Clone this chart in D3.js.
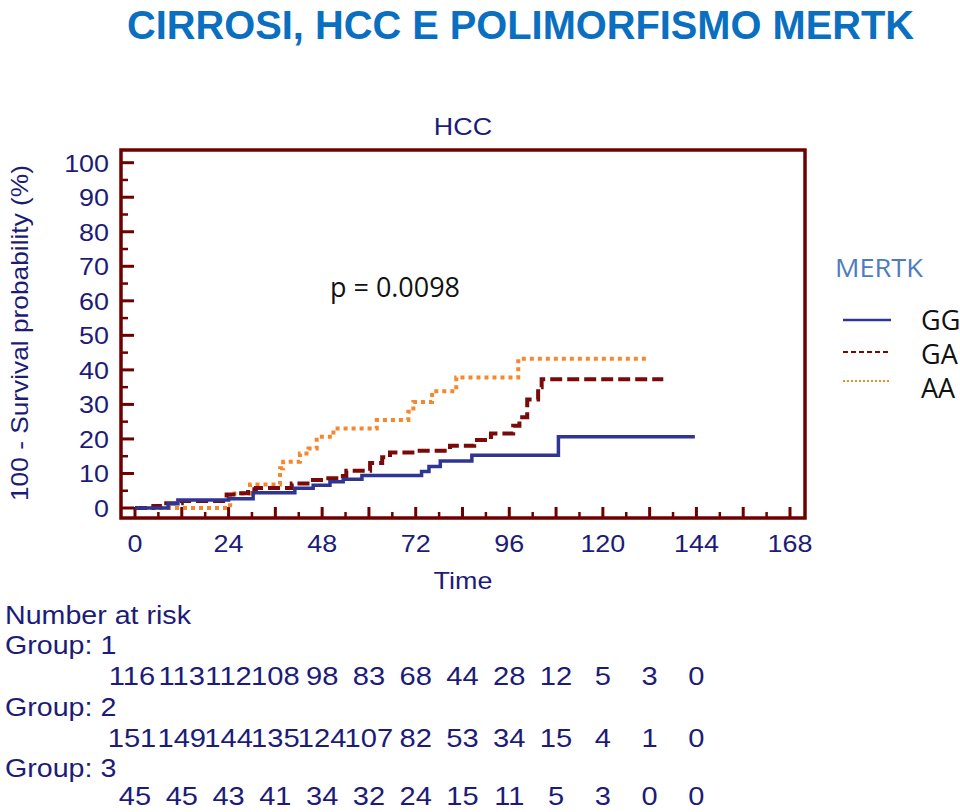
<!DOCTYPE html>
<html>
<head>
<meta charset="utf-8">
<script src="https://cdn.jsdelivr.net/npm/d3@7"></script>
<style>
  html, body { margin: 0; padding: 0; background: #fff; }
  svg { display: block; }
  text { font-family: "Liberation Sans", Arial, sans-serif; }
</style>
</head>
<body>
<svg id="chart" width="960" height="812"></svg>
<script>
// ---------- DATA ----------
const titleText = "CIRROSI, HCC E POLIMORFISMO MERTK";
const plotTitle = "HCC";
const xLabel = "Time";
const yLabel = "100 - Survival probability (%)";
const pValue = "p = 0.0098";
const legendTitle = "MERTK";
const groups = ["GG", "GA", "AA"];

const xTicks = [0, 24, 48, 72, 96, 120, 144, 168];
const yTicks = [0, 10, 20, 30, 40, 50, 60, 70, 80, 90, 100];

// step curves: [time, 100 - survival %]
const ggSteps = [[0,0],[8.5,1.2],[11,2.3],[24,2.7],[30.3,4.4],[41,5.7],[45.7,6.6],[50,7.6],[53.4,8.3],[58.2,9.4],[73.5,10.6],[75.4,12],[78.3,13.6],[86.4,15.3],[108.6,20.6],[143.6,20.6]];
const gaSteps = [[0,0],[4.7,0.6],[8,1.4],[12,2.0],[23.5,3.9],[26,4.3],[29,5.4],[31,5.8],[40.2,7.1],[44.9,8.1],[48.3,8.6],[52.6,9.3],[54.2,10.8],[60.3,13.0],[63.4,14.7],[65.4,16.1],[72.2,16.6],[80.8,18.0],[87,19.7],[91.3,21.6],[97,23.8],[98.6,26.3],[100.6,31.4],[103.4,35.0],[104.3,37.3],[135.5,37.3]];
const aaSteps = [[0,0],[24.4,4.2],[29.5,6.8],[37.2,11.5],[38,13.4],[42.3,15.8],[44.5,17.2],[46.6,20.6],[50.9,23.0],[62,25.5],[70.1,27.9],[71.4,30.7],[76.2,33.8],[82.4,37.8],[98.3,43.2],[131.2,43.2]];

const riskTimes = [0, 12, 24, 36, 48, 60, 72, 84, 96, 108, 120, 132, 144];
const riskGroup1 = [116, 113, 112, 108, 98, 83, 68, 44, 28, 12, 5, 3, 0];
const riskGroup2 = [151, 149, 144, 135, 124, 107, 82, 53, 34, 15, 4, 1, 0];
const riskGroup3 = [45, 45, 43, 41, 34, 32, 24, 15, 11, 5, 3, 0, 0];
const riskLabels = ["Group: 1", "Group: 2", "Group: 3"];

// ---------- STYLE ----------
const navy = "#1c1c78";
const frameColor = "#6e0000";
const colors = { GG: "#2e3592", GA: "#7a0a0a", AA: "#f5872c" };

const svg = d3.select("#chart");

function stretch(sel, k) {
  sel.each(function () {
    const w = this.getComputedTextLength();
    d3.select(this).attr("textLength", w * k).attr("lengthAdjust", "spacingAndGlyphs");
  });
  return sel;
}

// Title
svg.append("text")
  .attr("x", 127).attr("y", 39)
  .attr("font-size", 41).attr("font-weight", "bold")
  .attr("fill", "#0a6fc0")
  .style("font-family", "'Liberation Sans Narrow', 'Liberation Sans', Arial, sans-serif")
  .attr("textLength", 787).attr("lengthAdjust", "spacingAndGlyphs")
  .text(titleText);

// Scales
const x = d3.scaleLinear().domain([0, 168]).range([135, 790]);
const y = d3.scaleLinear().domain([0, 100]).range([508, 162.7]);

const frame = { x0: 121, x1: 805, y0: 150, y1: 518 };

// Frame
svg.append("rect")
  .attr("x", frame.x0).attr("y", frame.y0)
  .attr("width", frame.x1 - frame.x0).attr("height", frame.y1 - frame.y0)
  .attr("fill", "none").attr("stroke", frameColor).attr("stroke-width", 3.5);

// Y ticks (inside)
const yMinor = d3.range(5, 100, 10);
svg.append("g").selectAll("line").data(yTicks).join("line")
  .attr("x1", frame.x0).attr("x2", frame.x0 + 13)
  .attr("y1", d => y(d)).attr("y2", d => y(d))
  .attr("stroke", frameColor).attr("stroke-width", 3);
svg.append("g").selectAll("line").data(yMinor).join("line")
  .attr("x1", frame.x0).attr("x2", frame.x0 + 7)
  .attr("y1", d => y(d)).attr("y2", d => y(d))
  .attr("stroke", frameColor).attr("stroke-width", 2.5);

// X ticks (inside)
const xMajor = d3.range(0, 169, 12);
const xMinor = d3.range(6, 169, 12);
svg.append("g").selectAll("line").data(xMajor).join("line")
  .attr("x1", d => x(d)).attr("x2", d => x(d))
  .attr("y1", frame.y1).attr("y2", frame.y1 - 11)
  .attr("stroke", frameColor).attr("stroke-width", 3);
svg.append("g").selectAll("line").data(xMinor).join("line")
  .attr("x1", d => x(d)).attr("x2", d => x(d))
  .attr("y1", frame.y1).attr("y2", frame.y1 - 6)
  .attr("stroke", frameColor).attr("stroke-width", 2.5);

// Tick labels
stretch(svg.append("g").selectAll("text").data(yTicks).join("text")
  .attr("x", 109).attr("y", d => y(d) + 9)
  .attr("text-anchor", "end").attr("font-size", 24).attr("fill", navy)
  .text(d => d), 1.12);

stretch(svg.append("g").selectAll("text").data(xTicks).join("text")
  .attr("x", d => x(d)).attr("y", 552)
  .attr("text-anchor", "middle").attr("font-size", 24).attr("fill", navy)
  .text(d => d), 1.12);

// Axis labels
stretch(svg.append("text").attr("x", 463).attr("y", 589)
  .attr("text-anchor", "middle").attr("font-size", 24).attr("fill", navy)
  .text(xLabel), 1.12);

stretch(svg.append("text").attr("x", 463).attr("y", 135)
  .attr("text-anchor", "middle").attr("font-size", 24).attr("fill", navy)
  .text(plotTitle), 1.12);

svg.append("text")
  .attr("transform", "translate(28,333) rotate(-90)")
  .attr("text-anchor", "middle").attr("font-size", 24).attr("fill", navy)
  .attr("textLength", 336).attr("lengthAdjust", "spacingAndGlyphs")
  .text(yLabel);

// Curves
const line = d3.line().x(d => x(d[0])).y(d => y(d[1])).curve(d3.curveStepAfter);
const series = [
  { key: "GG", data: ggSteps, dash: null, width: 3.5 },
  { key: "GA", data: gaSteps, dash: "12,5", width: 4 },
  { key: "AA", data: aaSteps, dash: "4,4", width: 4 }
];
[series[2], series[1], series[0]].forEach(s => {
  svg.append("path").datum(s.data)
    .attr("d", line)
    .attr("fill", "none")
    .attr("stroke", colors[s.key])
    .attr("stroke-width", s.width)
    .attr("stroke-dasharray", s.dash);
});

// p value
svg.append("text").attr("x", 330).attr("y", 297)
  .attr("font-size", 27).attr("fill", "#111")
  .style("font-family", "'Open Sans', 'Liberation Sans', sans-serif")
  .attr("textLength", 130).attr("lengthAdjust", "spacingAndGlyphs")
  .text(pValue);

// Legend
svg.append("text").attr("x", 835).attr("y", 277)
  .attr("font-size", 26).attr("fill", "#4d7cbd")
  .style("font-family", "'Open Sans', 'Liberation Sans', sans-serif")
  .attr("textLength", 88).attr("lengthAdjust", "spacingAndGlyphs")
  .text(legendTitle);

const legendY = [320, 352, 381];
const legendLabelY = [330, 364, 398];
const legendDash = { GG: null, GA: "5,3", AA: "2,2" };
groups.forEach((g, i) => {
  svg.append("line")
    .attr("x1", 843).attr("x2", 891)
    .attr("y1", legendY[i]).attr("y2", legendY[i])
    .attr("stroke", colors[g]).attr("stroke-width", g === "GG" ? 2.5 : 2)
    .attr("stroke-dasharray", legendDash[g]);
  svg.append("text").attr("x", 921).attr("y", legendLabelY[i])
    .attr("font-size", 27).attr("fill", "#111")
    .style("font-family", "'Open Sans', 'Liberation Sans', sans-serif")
    .text(g);
});

// Number at risk
stretch(svg.append("text").attr("x", 5).attr("y", 624)
  .attr("font-size", 26).attr("fill", navy).text("Number at risk"), 1.1);

const riskRows = [riskGroup1, riskGroup2, riskGroup3];
const labelY = [654, 716, 777];
const rowY = [685, 747, 805];
riskRows.forEach((row, i) => {
  stretch(svg.append("text").attr("x", 5).attr("y", labelY[i])
    .attr("font-size", 26).attr("fill", navy).text(riskLabels[i]), 1.1);
  stretch(svg.append("g").selectAll("text").data(row).join("text")
    .attr("x", (d, j) => x(riskTimes[j]) - (i < 2 && j === 0 ? 3 : 0))
    .attr("y", rowY[i])
    .attr("text-anchor", "middle").attr("font-size", i === 2 ? 25 : 26).attr("fill", navy)
    .text(d => d), i === 2 ? 1.16 : 1.12);
});
</script>
</body>
</html>
